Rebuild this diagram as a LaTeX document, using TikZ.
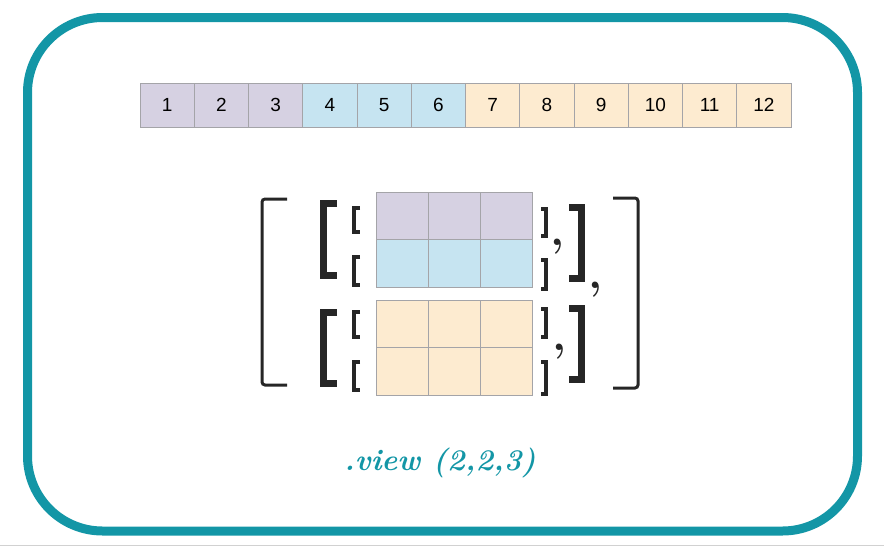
\documentclass[tikz,border=0pt]{standalone}
\usepackage{fontspec}
\usepackage{xcolor}
\usepackage{tikz}
\usetikzlibrary{positioning}
\newfontfamily\cellfont{Liberation Sans}

\definecolor{teal}{HTML}{1396A6}
\definecolor{lilac}{HTML}{D6D1E2}
\definecolor{skyblue}{HTML}{C6E4F1}
\definecolor{peach}{HTML}{FDEBD0}
\definecolor{cellline}{HTML}{A4A4A8}

\begin{document}
\begin{tikzpicture}[x=1pt, y=-1pt,
    cell/.style={draw=cellline, line width=1pt, minimum width=54.25pt, minimum height=44pt, inner sep=0pt, font=\cellfont\fontsize{19}{22}\selectfont},
    mcell/.style={draw=cellline, line width=1pt, minimum width=52pt, minimum height=47.5pt, inner sep=0pt},
    thinbrkt/.style={draw=black!85, line width=3pt, rounded corners=3pt},
    midbrkt/.style={draw=black!85, line width=7pt},
    smallbrkt/.style={draw=black!85, line width=4pt},
    comma/.style={text=black!85, inner sep=0pt, font=\bfseries\fontsize{45}{45}\selectfont}]

    \useasboundingbox (0,0) rectangle (884,547);

    % Frame
    \draw[teal, line width=9pt, rounded corners=75pt] (27.5,17.5) rectangle (857.5,531);
    \draw[black!18, line width=1.5pt] (0,545.5) -- (884,545.5);

    % Flat tensor
    \foreach \i in {1,...,3}
        \node[cell, fill=lilac] (c\i) at ({140+(\i-0.5)*54.25},105) {\i};
    \foreach \i in {4,...,6}
        \node[cell, fill=skyblue] (c\i) at ({140+(\i-0.5)*54.25},105) {\i};
    \foreach \i in {7,...,12}
        \node[cell, fill=peach] (c\i) at ({140+(\i-0.5)*54.25},105) {\i};

    % Reshaped tensor
    \foreach \j in {1,...,3} {
        \node[mcell, fill=lilac] (m1\j) at ({376+(\j-0.5)*52},216) {};
        \node[mcell, fill=skyblue] (m2\j) at ({376+(\j-0.5)*52},263.5) {};
        \node[mcell, fill=peach] (m3\j) at ({376+(\j-0.5)*52},324.5) {};
        \node[mcell, fill=peach] (m4\j) at ({376+(\j-0.5)*52},371.5) {};
    }

    % Outer brackets
    \draw[thinbrkt] (287,199) -| (262,385) -- (287,385);
    \draw[thinbrkt] (613,198) -| (638,388) -- (613,388);

    % Middle brackets
    \draw[midbrkt] (337,203.5) -| (323.5,275.5) -- (337,275.5);
    \draw[midbrkt] (337,312.5) -| (323.5,383.5) -- (337,383.5);
    \draw[midbrkt] (569,207.5) -| (581.5,278.5) -- (569,278.5);
    \draw[midbrkt] (569,308.5) -| (581.5,379.5) -- (569,379.5);

    % Row brackets
    \draw[smallbrkt] (360,208) -| (354,232) -- (360,232);
    \draw[smallbrkt] (360,257) -| (354,285) -- (360,285);
    \draw[smallbrkt] (360,312) -| (354,337) -- (360,337);
    \draw[smallbrkt] (360,362) -| (354,390) -- (360,390);
    \draw[smallbrkt] (541,209) -| (546,236) -- (541,236);
    \draw[smallbrkt] (541,260) -| (546,289) -- (541,289);
    \draw[smallbrkt] (541,309) -| (546,337) -- (541,337);
    \draw[smallbrkt] (541,362) -| (546,394) -- (541,394);

    % Commas
    \node[comma] (k1) at (558,247) {,};
    \node[comma] (k2) at (596,290) {,};
    \node[comma] (k3) at (560,352) {,};

    % Label
    \node[text=teal, font=\bfseries\itshape\fontsize{30}{36}\selectfont] (view) at (440,463) {.view (2,2,3)};

\end{tikzpicture}
\end{document}
